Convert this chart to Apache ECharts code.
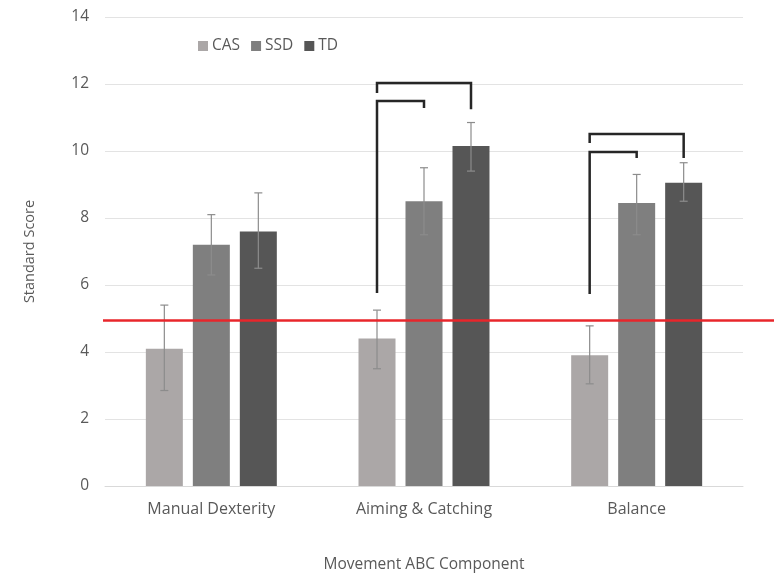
<!DOCTYPE html>
<html>
<head>
<meta charset="utf-8">
<script src="https://cdn.jsdelivr.net/npm/echarts@6/dist/echarts.min.js"></script>
<style>
  html, body { margin: 0; padding: 0; background: #fff; }
  #chart { width: 774px; height: 576px; }
</style>
</head>
<body>
<div id="chart"></div>
<script>
const categories = ['Manual Dexterity', 'Aiming & Catching', 'Balance'];
const yTicks = [0, 2, 4, 6, 8, 10, 12, 14];

const casMean = [4.1, 4.4, 3.9];
const casLow = [2.85, 3.5, 3.05];
const casHigh = [5.4, 5.25, 4.78];

const ssdMean = [7.2, 8.5, 8.45];
const ssdLow = [6.3, 7.5, 7.5];
const ssdHigh = [8.1, 9.5, 9.3];

const tdMean = [7.6, 10.15, 9.05];
const tdLow = [6.5, 9.4, 8.5];
const tdHigh = [8.75, 10.85, 9.65];

const cutoff = 4.95;

// [category, from series, to series, top, left leg end, right leg end]
const brackets = [
  [1, 0, 2, 12.03, 11.73, 11.25],
  [1, 0, 1, 11.49, 5.76, 11.28],
  [2, 0, 2, 10.51, 10.24, 9.79],
  [2, 0, 1, 9.97, 5.73, 9.79]
];

const BAR_W = 37;
const STEP = 47;
const offsets = [-STEP, 0, STEP];
const font = 'Open Sans';

const myChart = echarts.init(document.getElementById('chart'));

function errorSeries(low, high, idx) {
  return {
    type: 'custom',
    z: 5,
    data: categories.map((c, i) => [i, low[i], high[i]]),
    renderItem: function (params, api) {
      const lo = api.coord([api.value(0), api.value(1)]);
      const hi = api.coord([api.value(0), api.value(2)]);
      const x = lo[0] + offsets[idx];
      const cap = 4;
      const st = { stroke: '#8c8c8c', lineWidth: 1.2 };
      return {
        type: 'group',
        children: [
          { type: 'line', shape: { x1: x, y1: lo[1], x2: x, y2: hi[1] }, style: st },
          { type: 'line', shape: { x1: x - cap, y1: lo[1], x2: x + cap, y2: lo[1] }, style: st },
          { type: 'line', shape: { x1: x - cap, y1: hi[1], x2: x + cap, y2: hi[1] }, style: st }
        ]
      };
    }
  };
}

const barColors = ['#aba7a7', '#7f7f7f', '#565656'];
const names = ['CAS', 'SSD', 'TD'];
const means = [casMean, ssdMean, tdMean];

const barSeries = means.map((m, k) => ({
  name: names[k],
  type: 'bar',
  data: m,
  barWidth: BAR_W,
  barGap: '27%',
  itemStyle: { color: barColors[k] },
  z: 2
}));

barSeries[0].markLine = {
  symbol: 'none',
  silent: true,
  label: { show: false },
  lineStyle: { color: '#e8262b', width: 2.5, type: 'solid' },
  data: [[{ x: 103, yAxis: cutoff }, { x: '100%', yAxis: cutoff }]],
  z: 10
};

let option = {
  animation: false,
  backgroundColor: '#fff',
  textStyle: { fontFamily: font },
  grid: { left: 105, right: 31, top: 17, bottom: 90, outerBoundsMode: 'none' },
  legend: {
    data: names,
    left: 193,
    top: 33,
    itemWidth: 10,
    itemHeight: 10,
    itemGap: 11,
    icon: 'rect',
    textStyle: { color: '#595959', fontSize: 15.5, fontFamily: font, padding: [0, 0, 0, -1] }
  },
  xAxis: {
    type: 'category',
    data: categories,
    name: 'Movement ABC Component',
    nameLocation: 'middle',
    nameGap: 71,
    nameTextStyle: { color: '#595959', fontSize: 15.5, fontFamily: font },
    axisLine: { lineStyle: { color: '#d9d9d9' } },
    axisTick: { show: false },
    axisLabel: { color: '#595959', fontSize: 16, margin: 15, fontFamily: font }
  },
  yAxis: {
    type: 'value',
    min: yTicks[0],
    max: yTicks[yTicks.length - 1],
    interval: 2,
    name: 'Standard Score',
    nameLocation: 'middle',
    nameGap: 68,
    nameTextStyle: { color: '#595959', fontSize: 14.5, fontFamily: font },
    axisLine: { show: false },
    axisTick: { show: false },
    splitLine: { lineStyle: { color: '#e3e3e3', width: 1 } },
    axisLabel: { color: '#595959', fontSize: 15.5, margin: 16, fontFamily: font }
  },
  series: [
    ...barSeries,
    errorSeries(casLow, casHigh, 0),
    errorSeries(ssdLow, ssdHigh, 1),
    errorSeries(tdLow, tdHigh, 2),
    {
      type: 'custom',
      z: 8,
      data: brackets,
      renderItem: function (params, api) {
        const cat = api.value(0);
        const xl = api.coord([cat, 0])[0] + offsets[api.value(1)];
        const xr = api.coord([cat, 0])[0] + offsets[api.value(2)];
        const yt = api.coord([cat, api.value(3)])[1];
        const yl = api.coord([cat, api.value(4)])[1];
        const yr = api.coord([cat, api.value(5)])[1];
        return {
          type: 'polyline',
          shape: { points: [[xl, yl], [xl, yt], [xr, yt], [xr, yr]] },
          style: { stroke: '#262626', lineWidth: 2.5, fill: null }
        };
      }
    }
  ]
};

myChart.setOption(option);
</script>
</body>
</html>
